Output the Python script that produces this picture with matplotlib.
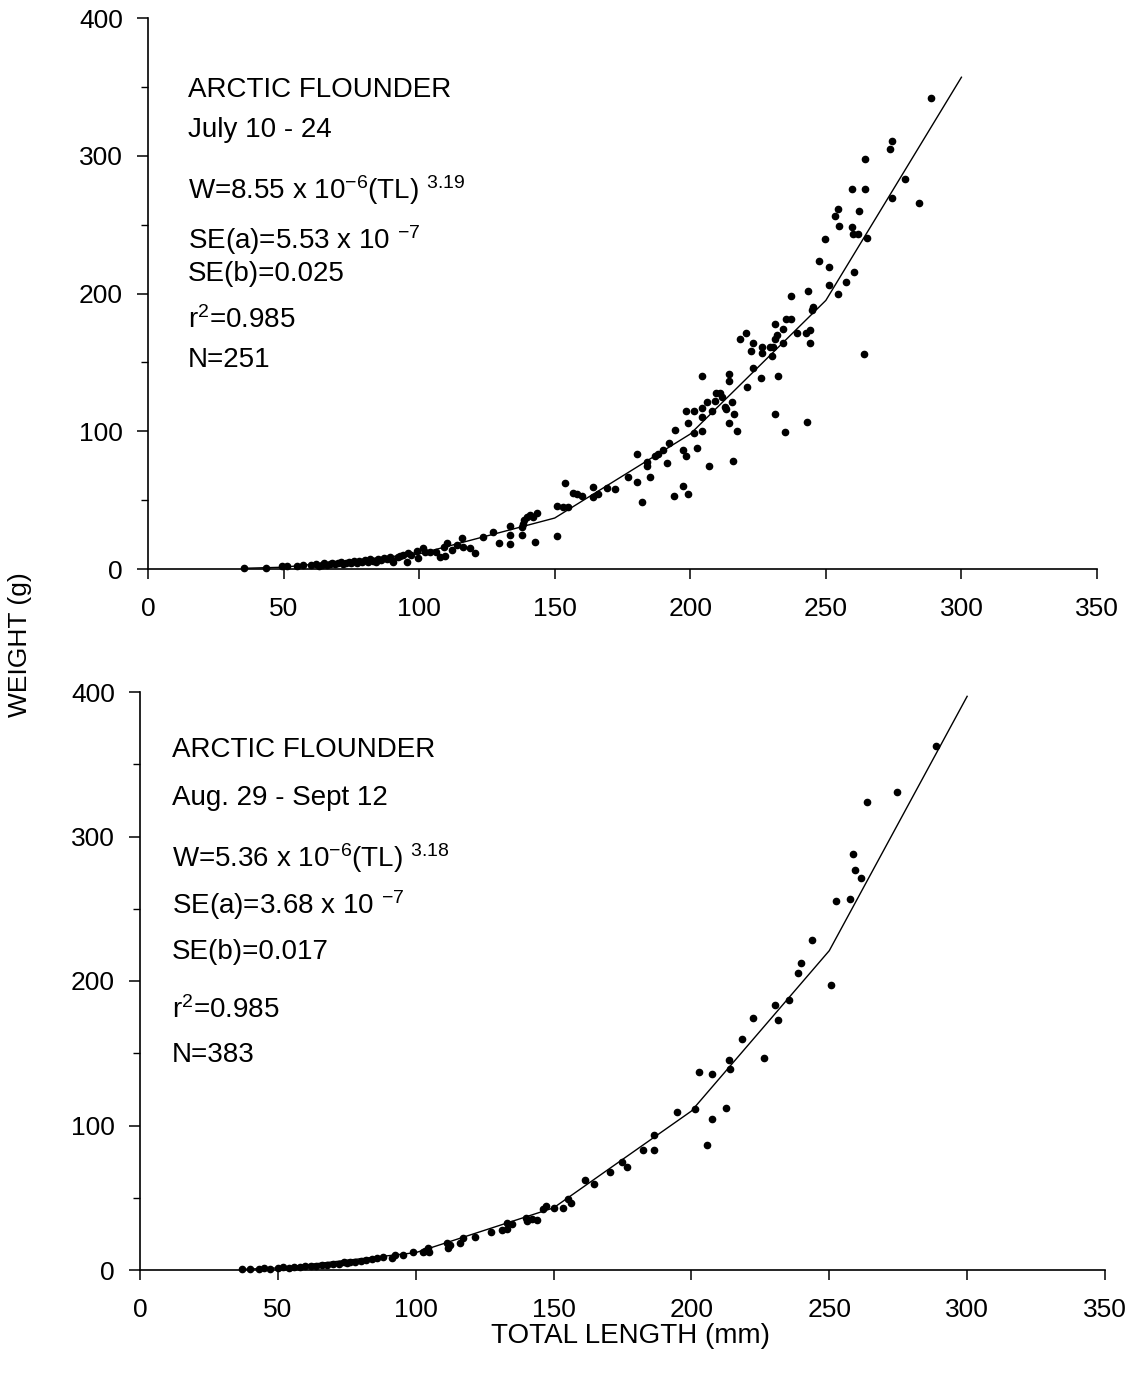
import numpy as np
import matplotlib
matplotlib.use('Agg')
import matplotlib.pyplot as plt
from matplotlib.ticker import MultipleLocator

plt.rcParams['font.family'] = ['Liberation Sans', 'DejaVu Sans']
plt.rcParams['mathtext.fontset'] = 'custom'
plt.rcParams['mathtext.rm'] = 'Liberation Sans'
plt.rcParams['mathtext.default'] = 'regular'

# July 10 - 24 sample (total length mm, weight g)
jul_len = [288.7, 274.5, 273.5, 264.4, 279.2, 259.5, 264.4, 274.3, 284.5, 254.5,
           253.5, 262.3, 254.8, 259.5, 260.0, 261.9, 265.0, 249.6, 247.5, 251.3,
           260.4, 257.4, 251.3, 254.5, 243.5, 237.3, 245.4, 244.8, 264.1, 242.7,
           244.1, 244.1, 239.2, 235.2, 237.3, 231.2, 220.4, 218.3, 234.2, 232.1,
           231.2, 223.3, 226.3, 226.3, 222.3, 229.4, 230.6, 234.3, 230.3, 223.3,
           204.2, 214.3, 214.3, 226.2, 232.2, 220.9, 215.3, 209.5, 211.0, 211.6,
           206.3, 209.2, 204.3, 204.3, 208.0, 213.2, 212.8, 216.1, 214.2, 217.1,
           204.3, 231.1, 235.0, 243.2, 215.9, 207.0,
           201.4, 198.4, 199.3, 201.5, 194.4, 202.4, 197.4, 198.3, 180.2, 192.2,
           190.0, 188.2, 187.0, 191.3, 184.2, 184.2, 177.1, 180.2, 185.1, 182.1,
           194.1, 197.2, 199.0, 172.2, 169.2, 166.1, 164.2, 164.2, 160.2, 158.3,
           156.6, 153.9, 150.7, 153.2, 155.0, 150.7, 143.6, 142.1, 140.9, 139.7,
           138.7, 138.2, 137.8, 137.8, 142.7, 133.5, 133.5, 133.5, 129.6, 127.1,
           123.7, 120.6, 118.8, 116.3, 115.7, 110.2, 109.0, 107.7, 109.5, 106.2,
           104.0, 101.5, 99.1, 99.7, 96.0, 95.4, 94.2, 92.3, 90.5, 89.3,
           35.4, 43.4, 49.3, 51.2, 54.8, 57.3, 60.0, 62.0, 63.0, 64.0,
           65.0, 66.0, 67.0, 68.0, 69.0, 70.0, 71.0, 72.0, 73.0, 74.0,
           75.0, 76.0, 77.0, 78.0, 79.0, 80.0, 81.0, 82.0, 83.0, 84.0,
           85.0, 86.0, 87.0, 88.0, 90.0, 93.0, 97.0, 102.0, 112.0, 114.0]
jul_wt = [342.0, 311.0, 305.0, 298.0, 283.0, 276.0, 276.0, 269.0, 266.0, 261.0,
          256.0, 260.0, 249.0, 248.5, 243.0, 243.0, 240.0, 239.6, 223.4, 219.5,
          215.6, 208.3, 206.4, 199.4, 202.0, 198.4, 190.4, 188.0, 156.0, 171.5,
          173.5, 164.3, 171.5, 181.3, 181.3, 177.9, 171.5, 166.7, 174.0, 169.9,
          166.7, 163.8, 161.4, 156.6, 158.5, 161.4, 161.0, 163.8, 154.6, 145.7,
          140.1, 141.6, 136.7, 138.4, 140.1, 132.3, 121.2, 128.0, 127.5, 125.1,
          121.2, 122.0, 116.6, 110.6, 115.0, 115.9, 117.4, 112.5, 105.8, 100.2,
          100.4, 112.3, 99.7, 106.7, 78.6, 74.8,
          114.7, 114.7, 105.8, 98.5, 100.9, 87.6, 86.4, 82.0, 83.3, 91.7,
          86.4, 83.5, 82.0, 77.2, 77.9, 74.8, 66.6, 63.4, 67.0, 48.4,
          53.2, 60.3, 54.4, 58.1, 58.6, 54.4, 59.3, 52.0, 53.0, 54.4,
          54.9, 62.2, 45.7, 45.2, 45.0, 24.2, 40.4, 37.5, 39.2, 38.0,
          35.6, 32.7, 30.3, 24.7, 19.4, 31.2, 24.7, 18.1, 19.1, 27.1,
          23.5, 11.8, 15.0, 16.2, 22.3, 18.6, 16.2, 8.9, 9.7, 12.6,
          12.6, 15.0, 13.3, 7.8, 11.4, 5.3, 10.2, 8.9, 5.3, 8.5,
          0.5, 1.0, 2.5, 2.0, 2.3, 2.6, 2.8, 3.5, 2.5, 3.2,
          4.0, 3.0, 3.5, 4.2, 3.3, 4.0, 4.8, 3.8, 4.5, 5.0,
          4.2, 5.5, 4.6, 5.8, 5.0, 6.2, 5.4, 7.0, 6.0, 5.0,
          7.3, 6.5, 8.0, 7.0, 6.2, 9.5, 10.5, 12.0, 14.0, 17.5]
jul_fit_len = [35, 50, 100, 150, 200, 250, 300]
jul_fit_wt = [0.5, 1.3, 11.0, 37.0, 98.0, 195.0, 357.0]

# Aug. 29 - Sept 12 sample
aug_len = [288.7, 274.4, 263.6, 258.5, 259.4, 261.4, 252.5, 257.5, 243.6, 250.5,
           239.6, 238.7, 235.5, 230.3, 231.5, 222.5, 218.5, 226.3, 213.5, 214.0,
           202.6, 207.6, 194.7, 201.3, 212.5, 207.5, 205.5, 186.5, 186.5, 182.6,
           174.7, 176.5, 170.5, 164.8, 161.5, 156.2, 155.4, 153.3, 150.2, 147.1,
           146.3, 143.9, 142.0, 140.3, 140.0, 135.0, 133.2, 133.0, 131.4, 127.3,
           121.5, 117.3, 116.1, 112.4, 111.8, 111.2, 104.6, 104.9, 103.4, 102.8,
           99.1, 95.5, 92.5, 91.3, 88.3,
           37.0, 40.0, 43.0, 45.0, 47.0, 50.0, 52.0, 54.0, 56.0, 58.0,
           60.0, 62.0, 64.0, 66.0, 68.0, 70.0, 72.0, 74.0, 75.0, 76.0,
           78.0, 80.0, 82.0, 84.0, 86.0]
aug_wt = [362.8, 331.0, 324.1, 287.7, 276.6, 271.3, 255.6, 256.5, 228.6, 197.2,
          212.5, 205.3, 187.1, 183.4, 173.0, 174.2, 159.9, 146.9, 145.5, 138.9,
          137.2, 135.4, 109.1, 111.2, 112.3, 104.3, 86.5, 93.4, 83.0, 83.0,
          74.5, 71.5, 67.6, 59.3, 62.3, 46.6, 48.9, 42.7, 43.1, 44.5,
          42.2, 34.6, 35.3, 33.9, 35.8, 31.6, 32.7, 28.2, 27.7, 26.1,
          23.1, 21.9, 18.5, 17.3, 15.0, 18.5, 15.0, 12.7, 13.4, 12.7,
          12.7, 10.4, 10.4, 8.1, 8.8,
          0.5, 0.8, 1.0, 1.2, 1.0, 1.5, 1.8, 1.6, 2.2, 2.0,
          2.6, 3.0, 2.8, 3.5, 3.8, 4.2, 4.0, 5.2, 4.8, 5.5,
          5.8, 6.5, 6.8, 7.5, 8.2]
aug_fit_len = [37, 50, 100, 150, 200, 250, 300]
aug_fit_wt = [0.5, 1.4, 12.0, 43.0, 110.0, 221.0, 397.0]

W, H = 1129, 1373
fig = plt.figure(figsize=(W / 100, H / 100), dpi=100)


def px_rect(x0, x1, y_top, y_bot):
    return [x0 / W, 1 - y_bot / H, (x1 - x0) / W, (y_bot - y_top) / H]


def style_axes(ax):
    ax.set_xlim(0, 350)
    ax.set_ylim(0, 400)
    ax.spines['top'].set_visible(False)
    ax.spines['right'].set_visible(False)
    for s in ('left', 'bottom'):
        ax.spines[s].set_linewidth(1.2)
    ax.xaxis.set_major_locator(MultipleLocator(50))
    ax.yaxis.set_major_locator(MultipleLocator(100))
    ax.yaxis.set_minor_locator(MultipleLocator(50))
    ax.tick_params(axis='x', which='major', direction='out', length=7,
                   width=1.1, pad=13, labelsize=19)
    ax.tick_params(axis='y', which='major', direction='out', length=8,
                   width=1.1, pad=10, labelsize=19)
    ax.tick_params(axis='y', which='minor', direction='out', length=5, width=1.0)


def annotate(lines, x_px, ys_px):
    for txt, y in zip(lines, ys_px):
        fig.text(x_px / W, 1 - y / H, txt, fontsize=20, va='center', ha='left')


# top panel
ax1 = fig.add_axes(px_rect(148, 1097, 18, 569))
ax1.plot(jul_fit_len, jul_fit_wt, color='black', lw=1.0, zorder=2)
ax1.plot(jul_len, jul_wt, 'o', color='black', ms=4.5, zorder=3, clip_on=False)
style_axes(ax1)
annotate(['ARCTIC FLOUNDER', 'July 10 - 24',
          r'W=8.55 x 10$^{-6}$(TL) $^{3.19}$',
          r'SE(a)=5.53 x 10 $^{-7}$', 'SE(b)=0.025',
          r'r$^{2}$=0.985', 'N=251'],
         188, [90, 130, 190, 240, 274, 320, 360])

# bottom panel
ax2 = fig.add_axes(px_rect(140, 1105, 692, 1270))
ax2.plot(aug_fit_len, aug_fit_wt, color='black', lw=1.0, zorder=2)
ax2.plot(aug_len, aug_wt, 'o', color='black', ms=4.5, zorder=3, clip_on=False)
style_axes(ax2)
annotate(['ARCTIC FLOUNDER', 'Aug. 29 - Sept 12',
          r'W=5.36 x 10$^{-6}$(TL) $^{3.18}$',
          r'SE(a)=3.68 x 10 $^{-7}$', 'SE(b)=0.017',
          r'r$^{2}$=0.985', 'N=383'],
         172, [750, 798, 858, 905, 952, 1010, 1055])

fig.text(20 / W, 1 - 645 / H, 'WEIGHT (g)', rotation=90, fontsize=19,
         ha='center', va='center')
fig.text(630 / W, 1 - 1336 / H, 'TOTAL LENGTH (mm)', fontsize=20,
         ha='center', va='center')

fig.savefig('out.png', dpi=100)
